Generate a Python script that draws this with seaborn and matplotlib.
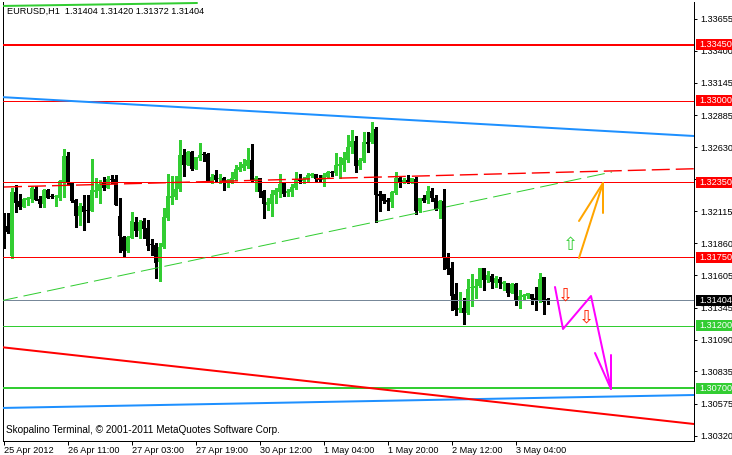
import numpy as np
import pandas as pd
import matplotlib
matplotlib.use("Agg")
import matplotlib.pyplot as plt
from matplotlib.patches import Rectangle
from matplotlib.transforms import blended_transform_factory
import seaborn as sns

# ---------------- data (EURUSD H1) ----------------
opens = [1.32095, 1.31999, 1.31759, 1.32271, 1.32199, 1.32151, 1.32207, 1.32215, 1.32295, 1.32215,
         1.32175, 1.32287, 1.32231, 1.32231, 1.32223, 1.32351, 1.32559, 1.32343, 1.32207, 1.32079,
         1.32159, 1.32127, 1.32119, 1.32271, 1.32279, 1.32343, 1.32303, 1.32375, 1.32375, 1.32079,
         1.31911, 1.31799, 1.31903, 1.32031, 1.31959, 1.32039, 1.31983, 1.31847, 1.31847, 1.31711,
         1.31831, 1.32063, 1.32223, 1.32231, 1.32295, 1.32567, 1.32487, 1.32591, 1.32455, 1.32543,
         1.32567, 1.32575, 1.32351, 1.32407, 1.32375, 1.32383, 1.32351, 1.32351, 1.32375, 1.32447,
         1.32463, 1.32479, 1.32527, 1.32359, 1.32383, 1.32279, 1.32167, 1.32175, 1.32247, 1.32271,
         1.32343, 1.32263, 1.32271, 1.32303, 1.32375, 1.32359, 1.32375, 1.32399, 1.32415, 1.32383,
         1.32367, 1.32391, 1.32431, 1.32423, 1.32479, 1.32487, 1.32527, 1.32631, 1.32679, 1.32479,
         1.32519, 1.32671, 1.32671, 1.32775, 1.32255, 1.32255, 1.32207, 1.32191, 1.32263, 1.32383,
         1.32351, 1.32367, 1.32351, 1.32375, 1.32119, 1.32223, 1.32207, 1.32279, 1.32223, 1.32135,
         1.32199, 1.31743, 1.31663, 1.31455, 1.31327, 1.31343, 1.31303, 1.31503, 1.31503, 1.31519,
         1.31663, 1.31567, 1.31599, 1.31543, 1.31575, 1.31535, 1.31543, 1.31463, 1.31535, 1.31399,
         1.31431, 1.31439, 1.31455, 1.31423, 1.31399, 1.31591, 1.31404]
highs = [1.32103, 1.32103, 1.32303, 1.32327, 1.32255, 1.32223, 1.32231, 1.32319, 1.32319, 1.32239,
         1.32295, 1.32295, 1.32255, 1.32247, 1.32367, 1.32615, 1.32591, 1.32351, 1.32215, 1.32183,
         1.32247, 1.32247, 1.32535, 1.32383, 1.32367, 1.32391, 1.32399, 1.32407, 1.32407, 1.32223,
         1.31919, 1.31919, 1.32111, 1.32071, 1.32047, 1.32063, 1.32047, 1.31895, 1.31863, 1.31863,
         1.32143, 1.32415, 1.32399, 1.32399, 1.32687, 1.32615, 1.32599, 1.32599, 1.32551, 1.32663,
         1.32591, 1.32583, 1.32415, 1.32447, 1.32415, 1.32391, 1.32375, 1.32431, 1.32487, 1.32511,
         1.32535, 1.32623, 1.32655, 1.32399, 1.32383, 1.32287, 1.32223, 1.32287, 1.32303, 1.32415,
         1.32351, 1.32295, 1.32335, 1.32431, 1.32415, 1.32391, 1.32423, 1.32423, 1.32415, 1.32407,
         1.32423, 1.32439, 1.32439, 1.32583, 1.32551, 1.32591, 1.32727, 1.32767, 1.32719, 1.32543,
         1.32751, 1.32751, 1.32831, 1.32791, 1.32279, 1.32255, 1.32223, 1.32279, 1.32431, 1.32399,
         1.32383, 1.32407, 1.32383, 1.32391, 1.32223, 1.32247, 1.32319, 1.32303, 1.32247, 1.32207,
         1.32295, 1.31783, 1.31711, 1.31543, 1.31471, 1.31423, 1.31575, 1.31615, 1.31575, 1.31663,
         1.31663, 1.31639, 1.31615, 1.31599, 1.31591, 1.31559, 1.31543, 1.31543, 1.31543, 1.31487,
         1.31455, 1.31463, 1.31455, 1.31511, 1.31623, 1.31591, 1.31420]
lows = [1.31823, 1.31943, 1.31743, 1.32111, 1.32135, 1.32151, 1.32167, 1.32191, 1.32207, 1.32151,
        1.32151, 1.32223, 1.32223, 1.32159, 1.32207, 1.32231, 1.32327, 1.32191, 1.31991, 1.32007,
        1.31967, 1.32031, 1.32119, 1.32231, 1.32183, 1.32287, 1.32303, 1.32343, 1.32167, 1.31791,
        1.31751, 1.31791, 1.31903, 1.31919, 1.31903, 1.31903, 1.31807, 1.31767, 1.31583, 1.31559,
        1.31823, 1.32047, 1.32175, 1.32215, 1.32279, 1.32399, 1.32487, 1.32447, 1.32455, 1.32527,
        1.32519, 1.32351, 1.32343, 1.32359, 1.32343, 1.32287, 1.32311, 1.32343, 1.32367, 1.32439,
        1.32447, 1.32463, 1.32351, 1.32279, 1.32231, 1.32063, 1.32127, 1.32079, 1.32183, 1.32231,
        1.32239, 1.32239, 1.32239, 1.32295, 1.32343, 1.32343, 1.32359, 1.32391, 1.32359, 1.32351,
        1.32319, 1.32383, 1.32399, 1.32407, 1.32383, 1.32439, 1.32511, 1.32583, 1.32431, 1.32455,
        1.32511, 1.32591, 1.32663, 1.32031, 1.32119, 1.32183, 1.32127, 1.32151, 1.32255, 1.32311,
        1.32343, 1.32343, 1.32343, 1.32095, 1.32111, 1.32191, 1.32183, 1.32199, 1.32127, 1.32063,
        1.31655, 1.31615, 1.31327, 1.31287, 1.31311, 1.31215, 1.31295, 1.31359, 1.31423, 1.31511,
        1.31487, 1.31551, 1.31503, 1.31511, 1.31503, 1.31487, 1.31439, 1.31463, 1.31367, 1.31343,
        1.31407, 1.31423, 1.31375, 1.31327, 1.31391, 1.31295, 1.31372]
closes = [1.31991, 1.31951, 1.32271, 1.32183, 1.32151, 1.32215, 1.32223, 1.32303, 1.32207, 1.32175,
          1.32287, 1.32223, 1.32227, 1.32235, 1.32359, 1.32559, 1.32343, 1.32199, 1.32079, 1.32159,
          1.32111, 1.32119, 1.32287, 1.32287, 1.32335, 1.32303, 1.32375, 1.32367, 1.32167, 1.31919,
          1.31799, 1.31911, 1.32039, 1.31959, 1.32031, 1.31975, 1.31839, 1.31843, 1.31703, 1.31831,
          1.32071, 1.32239, 1.32239, 1.32295, 1.32567, 1.32487, 1.32591, 1.32455, 1.32551, 1.32567,
          1.32563, 1.32351, 1.32391, 1.32367, 1.32383, 1.32351, 1.32367, 1.32383, 1.32455, 1.32471,
          1.32495, 1.32527, 1.32359, 1.32383, 1.32271, 1.32175, 1.32191, 1.32255, 1.32287, 1.32335,
          1.32255, 1.32279, 1.32311, 1.32367, 1.32359, 1.32375, 1.32407, 1.32415, 1.32375, 1.32367,
          1.32407, 1.32431, 1.32423, 1.32487, 1.32495, 1.32543, 1.32631, 1.32679, 1.32479, 1.32527,
          1.32671, 1.32655, 1.32743, 1.32247, 1.32239, 1.32199, 1.32191, 1.32271, 1.32383, 1.32343,
          1.32367, 1.32343, 1.32383, 1.32119, 1.32223, 1.32199, 1.32279, 1.32223, 1.32135, 1.32199,
          1.31743, 1.31655, 1.31439, 1.31327, 1.31343, 1.31303, 1.31495, 1.31511, 1.31519, 1.31663,
          1.31567, 1.31607, 1.31551, 1.31583, 1.31543, 1.31551, 1.31463, 1.31535, 1.31399, 1.31439,
          1.31447, 1.31463, 1.31415, 1.31399, 1.31575, 1.31391, 1.31404]

time_tick_bars = [0, 16, 32, 48, 64, 80, 96, 112, 128]
time_tick_labels = ["25 Apr 2012", "26 Apr 11:00", "27 Apr 03:00", "27 Apr 19:00", "30 Apr 12:00",
                    "1 May 04:00", "1 May 20:00", "2 May 12:00", "3 May 04:00"]
price_ticks = [1.33655, 1.33400, 1.33145, 1.32885, 1.32630, 1.32375, 1.32115, 1.31860,
               1.31605, 1.31345, 1.31090, 1.30835, 1.30575, 1.30320]
# tick labels fully covered by a price-level box in the reference are left blank
hidden_tick_labels = [1.32375]

# horizontal levels: (price, colour, width in px)
level_prices = [1.3345, 1.3300, 1.3235, 1.3175, 1.31404, 1.3120, 1.3070]
level_colors = ["#FF0000", "#FF0000", "#FF0000", "#FF0000", "#778899", "#32CD32", "#32CD32"]
level_widths = [2, 1, 1, 1, 1, 1, 2]
label_box_colors = ["#FF0000", "#FF0000", "#FF0000", "#FF0000", "#000000", "#32CD32", "#32CD32"]

# trend lines: two anchors each (bar index, price)
blue_upper_x, blue_upper_y = [-1, 172.5], [1.33031, 1.32719]
blue_lower_x, blue_lower_y = [-1, 172.5], [1.30543, 1.30647]
red_trend_x, red_trend_y = [-1, 172.5], [1.31031, 1.30415]
green_dash_x, green_dash_y = [-1, 152], [1.31399, 1.32431]
red_dash_x, red_dash_y = [0, 172.5], [1.32311, 1.32457]
green_top_x, green_top_y = [-1, 48.25], [1.33759, 1.33783]

# forecast drawings
orange_shaft_x, orange_shaft_y = [143.75, 149.75], [1.31743, 1.32343]
orange_barb_x, orange_barb_y = [143.75, 149.75, 149.75], [1.32039, 1.32343, 1.32103]
magenta_x = [137.75, 139.75, 146.75, 151.75]
magenta_y = [1.31511, 1.31175, 1.31439, 1.30695]
magenta_barb_x, magenta_barb_y = [147.75, 151.75, 151.75], [1.30983, 1.30695, 1.30967]
up_arrow_pos = (141.5, 1.31847)
down_arrow_pos = [(140.25, 1.31439), (145.5, 1.31263)]

title_text = "EURUSD,H1  1.31404 1.31420 1.31372 1.31404"
footer_text = "Skopalino Terminal, \u00a9 2001-2011 MetaQuotes Software Corp."

# ---------------- style ----------------
sns.set_style("white", rc={"axes.edgecolor": "black", "text.color": "black",
                           "xtick.color": "black", "ytick.color": "black"})
plt.rcParams['font.family'] = ['Liberation Sans', 'DejaVu Sans']
FS = 6.6
PX = 72.0 / 100.0  # points per pixel

W, Hh = 732, 455
fig = plt.figure(figsize=(W / 100, Hh / 100), dpi=100)
L_px, R_px, T_px, B_px = 2.5, 694, 2, 441
ax = fig.add_axes([L_px / W, (Hh - B_px) / Hh, (R_px - L_px) / W, (B_px - T_px) / Hh])
ax.set_xlim(-0.375, 172.5)
ax.set_ylim(1.30279, 1.33791)

GREEN = "#32CD32"

df = pd.DataFrame({"bar": np.arange(len(opens)), "open": opens, "high": highs,
                   "low": lows, "close": closes})
up = df["close"] > df["open"]
cols = np.where(up, GREEN, "#000000")
ax.vlines(df["bar"], np.minimum(df["low"], np.minimum(df["open"], df["close"])),
          np.maximum(df["high"], np.maximum(df["open"], df["close"])),
          colors=cols, linewidth=1.1 * PX, antialiased=False, zorder=2)
body_bottom = np.minimum(df["open"], df["close"])
body_h = np.maximum(np.abs(df["close"] - df["open"]), 0.00009)
ax.bar(df["bar"], body_h, bottom=body_bottom, width=0.8, color=cols,
       linewidth=0, antialiased=False, zorder=2.1)

# horizontal levels
for p, c, w in zip(level_prices, level_colors, level_widths):
    ax.axhline(p, color=c, linewidth=w * PX, zorder=3)

# trend lines via seaborn
def sline(xs, ys, color, lw_px, dashed=False, z=3):
    sns.lineplot(x=xs, y=ys, ax=ax, color=color, linewidth=lw_px * PX,
                 estimator=None, sort=False, legend=False, zorder=z)
    line = ax.get_lines()[-1]
    if dashed:
        line.set_dashes((18 / lw_px, 6 / lw_px))
    return line

sline(blue_upper_x, blue_upper_y, "#1E90FF", 2)
sline(blue_lower_x, blue_lower_y, "#1E90FF", 2)
sline(red_trend_x, red_trend_y, "#FF0000", 2)
sline(green_dash_x, green_dash_y, GREEN, 1, dashed=True)
sline(red_dash_x, red_dash_y, "#FF0000", 1.4, dashed=True)
sline(green_top_x, green_top_y, GREEN, 2)

ax.plot(orange_shaft_x, orange_shaft_y, color="#FFA500", linewidth=2 * PX, zorder=4)
ax.plot(orange_barb_x, orange_barb_y, color="#FFA500", linewidth=2 * PX, zorder=4)
ax.plot(magenta_x, magenta_y, color="#FF00FF", linewidth=2 * PX, zorder=4)
ax.plot(magenta_barb_x, magenta_barb_y, color="#FF00FF", linewidth=2 * PX, zorder=4)

ax.text(up_arrow_pos[0], up_arrow_pos[1], "\u21e7", color=GREEN, fontsize=13,
        family=["DejaVu Sans"], ha="center", va="center", zorder=5)
for xa, ya in down_arrow_pos:
    ax.text(xa, ya, "\u21e9", color="#FF2000", fontsize=13,
            family=["DejaVu Sans"], ha="center", va="center", zorder=5)

# axes / ticks
for s in ["left", "right", "bottom"]:
    ax.spines[s].set_visible(True)
    ax.spines[s].set_color("black")
    ax.spines[s].set_linewidth(1 * PX)
ax.spines["top"].set_visible(False)

ax.yaxis.tick_right()
ax.set_yticks(price_ticks)
ax.set_yticklabels(["" if v in hidden_tick_labels else f"{v:.5f}" for v in price_ticks])
ax.set_xticks(time_tick_bars)
ax.set_xticklabels(time_tick_labels)
for t in ax.get_xticklabels():
    t.set_ha("left")
ax.tick_params(axis="y", which="both", left=False, right=True, labelleft=False,
               labelright=True, direction="out", length=3 * PX, width=1 * PX,
               pad=3 * PX, labelsize=FS)
ax.tick_params(axis="x", which="both", bottom=True, direction="out", length=4 * PX,
               width=1 * PX, pad=0.5, labelsize=FS)
ax.set_xlabel("")
ax.set_ylabel("")
ax.grid(False)

# right-side price label boxes
trans = blended_transform_factory(fig.transFigure, ax.transData)
box_h = 11 * 0.00008
for p, bc in zip(level_prices, label_box_colors):
    ax.add_patch(Rectangle((696 / W, p - box_h / 2), 36 / W, box_h, transform=trans,
                           facecolor=bc, edgecolor="none", clip_on=False, zorder=6))
    ax.text(699.5 / W, p, f"{p:.5f}", transform=trans, color="white", fontsize=FS,
            ha="left", va="center", clip_on=False, zorder=7)

fig.text(7 / W, 1 - 11 / Hh, title_text, fontsize=FS, ha="left", va="center", color="black")
fig.text(5.5 / W, 1 - 430 / Hh, footer_text, fontsize=7.2, ha="left", va="center", color="black")

fig.savefig("out.png", dpi=100, facecolor="white")
